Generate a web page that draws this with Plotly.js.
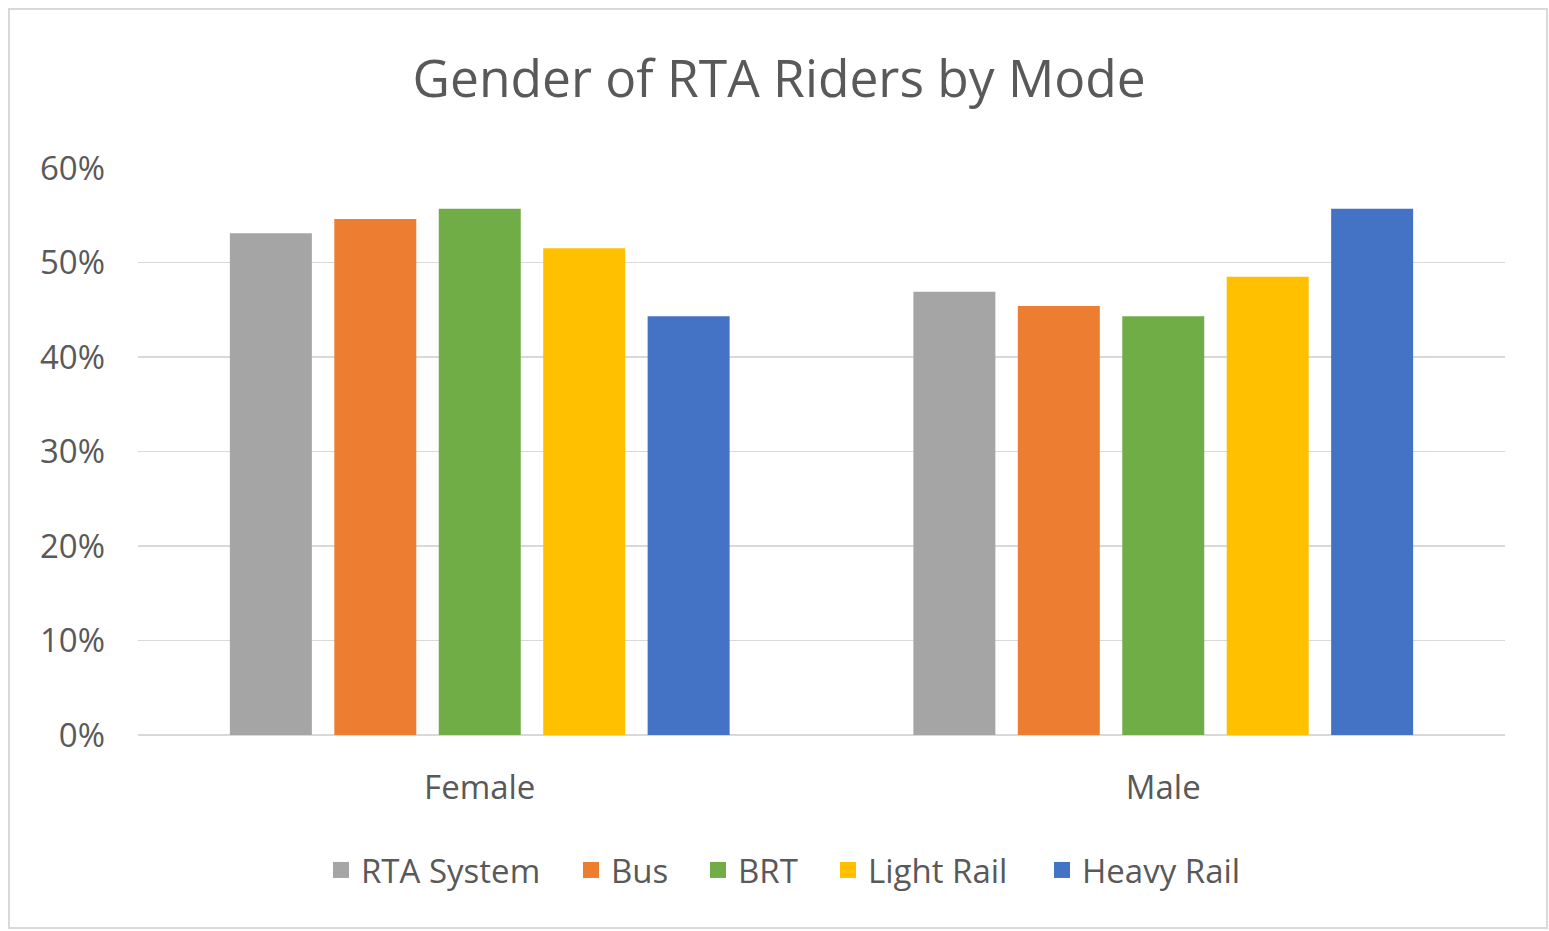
<!DOCTYPE html>
<html>
<head>
<meta charset="utf-8">
<script src="https://cdn.plot.ly/plotly-3.0.1.min.js"></script>
<style>html,body{margin:0;padding:0;background:#fff;}#chart{width:1549px;height:931px;}</style>
</head>
<body>
<div id="chart"></div>
<script>
var categories = ["Female", "Male"];
var seriesNames = ["RTA System", "Bus", "BRT", "Light Rail", "Heavy Rail"];
var rtaSystem = [0.531, 0.469];
var bus = [0.546, 0.454];
var brt = [0.557, 0.443];
var lightRail = [0.515, 0.485];
var heavyRail = [0.443, 0.557];
var colors = ["#A5A5A5", "#ED7D31", "#70AD47", "#FFC000", "#4472C4"];
var tickVals = [0, 0.1, 0.2, 0.3, 0.4, 0.5, 0.6];

var W = 1549, H = 931;
var L = 138, R = 44, T = 168, B = 196;
var pw = W - L - R, ph = H - T - B;
function px(x) { return (x - L) / pw; }
function py(y) { return (H - B - y) / ph; }

var font = "Open Sans, Noto Sans, sans-serif";
var legendIds = ["legend", "legend2", "legend3", "legend4", "legend5"];
var legendLeft = [333, 583, 710, 840, 1054];

var seriesValues = [rtaSystem, bus, brt, lightRail, heavyRail];
var traces = [];
seriesNames.forEach(function (name, i) {
  traces.push({
    type: "bar",
    name: name,
    x: categories,
    y: seriesValues[i],
    marker: {color: colors[i]},
    legendgroup: name,
    showlegend: false
  });
});
// legend entries with square swatches (no data points drawn)
seriesNames.forEach(function (name, i) {
  traces.push({
    type: "scatter",
    mode: "markers",
    name: name,
    x: [categories[0]],
    y: [null],
    marker: {color: colors[i], symbol: "square", size: 19},
    legendgroup: name,
    legend: legendIds[i],
    showlegend: true
  });
});

var layout = {
  width: W, height: H,
  margin: {l: L, r: R, t: T, b: B, pad: 0},
  paper_bgcolor: "#ffffff",
  plot_bgcolor: "#ffffff",
  font: {family: font, color: "#595959", size: 33},
  title: {
    text: "Gender of RTA Riders by Mode",
    font: {family: font, size: 51.5, color: "#595959"},
    x: 0.503, xanchor: "center",
    y: 0.915, yanchor: "middle"
  },
  barmode: "group",
  bargap: 0.236,
  bargroupgap: 0.215,
  xaxis: {
    type: "category",
    showgrid: false,
    showline: false,
    ticks: "",
    tickfont: {family: font, size: 33, color: "#595959"},
    ticklabelstandoff: 30
  },
  yaxis: {
    range: [0, 0.6],
    tickvals: tickVals,
    tickformat: ".0%",
    showgrid: true,
    gridcolor: "#D9D9D9",
    gridwidth: 1.5,
    zeroline: true,
    zerolinecolor: "#D9D9D9",
    zerolinewidth: 1.5,
    showline: false,
    ticks: "",
    ticklabelstandoff: 32,
    tickfont: {family: font, size: 33, color: "#595959"}
  },
  showlegend: true,
  shapes: [{
    type: "rect", xref: "paper", yref: "paper",
    x0: px(9), x1: px(1547), y0: py(928), y1: py(9),
    line: {color: "#D9D9D9", width: 2},
    fillcolor: "rgba(0,0,0,0)",
    layer: "below"
  }]
};

legendIds.forEach(function (id, i) {
  layout[id] = {
    orientation: "h",
    x: px(legendLeft[i] - 12), xanchor: "left",
    y: py(870), yanchor: "middle",
    font: {family: font, size: 33, color: "#595959"},
    itemwidth: 30,
    bgcolor: "rgba(0,0,0,0)",
    borderwidth: 0
  };
});

Plotly.newPlot("chart", traces, layout, {displayModeBar: false, staticPlot: true});
</script>
</body>
</html>
